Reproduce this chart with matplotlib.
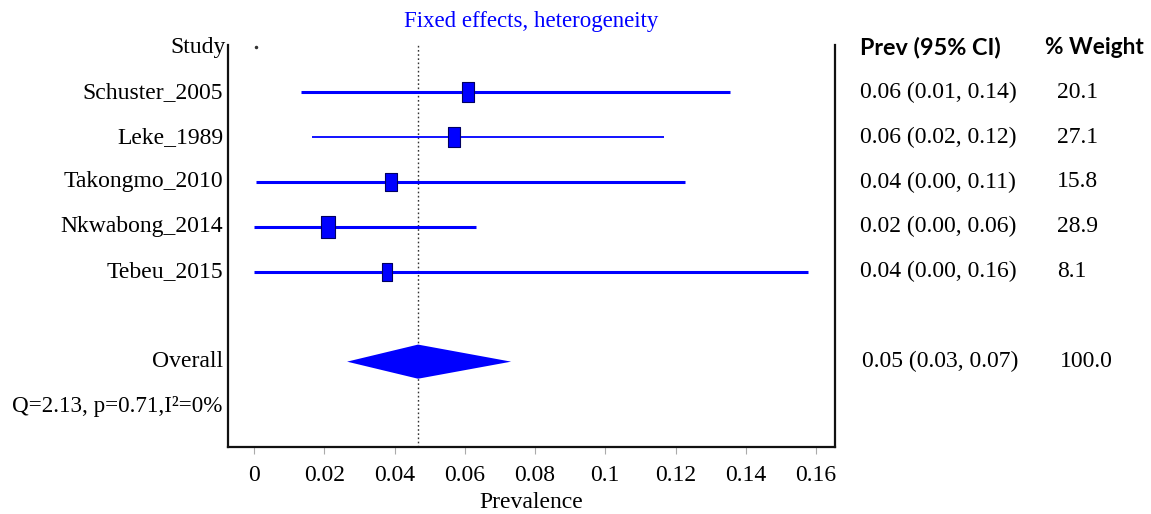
import matplotlib
matplotlib.use("Agg")
import matplotlib.pyplot as plt
from matplotlib.path import Path
from matplotlib.transforms import blended_transform_factory

studies = ["Schuster_2005", "Leke_1989", "Takongmo_2010", "Nkwabong_2014", "Tebeu_2015"]
prev = [0.061, 0.057, 0.039, 0.021, 0.038]
lower = [0.0134, 0.0165, 0.0006, 0.0, 0.0]
upper = [0.1355, 0.1167, 0.1227, 0.0632, 0.1577]
weights = [20.1, 27.1, 15.8, 28.9, 8.1]
ci_text = ["0.06 (0.01, 0.14)", "0.06 (0.02, 0.12)", "0.04 (0.00, 0.11)",
           "0.02 (0.00, 0.06)", "0.04 (0.00, 0.16)"]
weight_text = ["20.1", "27.1", "15.8", "28.9", "8.1"]
overall = 0.0467
overall_lo = 0.0265
overall_hi = 0.0732
overall_ci_text = "0.05 (0.03, 0.07)"
overall_weight_text = "100.0"
het_text = "Q=2.13, p=0.71,I\u00b2=0%"
xticks = [0, 0.02, 0.04, 0.06, 0.08, 0.1, 0.12, 0.14, 0.16]
xticklabels = ["0", "0.02", "0.04", "0.06", "0.08", "0.1", "0.12", "0.14", "0.16"]
line_widths = [2.2, 1.3, 2.2, 2.2, 2.2]

serif = "Liberation Serif"
sans = "Lato"
blue = "#0000FF"
fs = 17

fig = plt.figure(figsize=(11.51, 5.14), dpi=100)
ax = fig.add_axes([228/1151, 1-447/514, (835-228)/1151, (447-45)/514])
ax.set_xlim(-0.0074, 0.1654)
ax.set_ylim(8.9, -0.05)

# reference line
ax.axvline(overall, color="#333333", linestyle=(0, (1.2, 1.8)), linewidth=1.0, zorder=1)

rect = Path([(-0.62, -1), (0.62, -1), (0.62, 1), (-0.62, 1), (-0.62, -1)],
            [Path.MOVETO, Path.LINETO, Path.LINETO, Path.LINETO, Path.CLOSEPOLY])

for i, (p, lo, hi, w, lw) in enumerate(zip(prev, lower, upper, weights, line_widths)):
    y = i + 1
    ax.plot([lo, hi], [y, y], color=blue, linewidth=lw, solid_capstyle="butt", zorder=2)
    ms = 11.5 + 0.13 * w
    ax.plot([p], [y], marker=rect, markersize=ms, markerfacecolor=blue,
            markeredgecolor="#000060", markeredgewidth=0.8, linestyle="none", zorder=3)

# overall diamond
ax.fill([overall_lo, overall, overall_hi, overall], [7, 6.62, 7, 7.38],
        color=blue, linewidth=0, zorder=3)

# tiny dot near the header
ax.plot([0.0005], [0], marker="o", markersize=1.5, color="#333333", zorder=2)

ax.spines["top"].set_visible(False)
for s in ["left", "right", "bottom"]:
    ax.spines[s].set_linewidth(1.6)
    ax.spines[s].set_color("#111111")
ax.set_yticks([])
ax.set_xticks(xticks)
ax.set_xticklabels(xticklabels, fontfamily=serif, fontsize=fs)
ax.tick_params(axis="x", direction="out", length=5, width=0.8, color="#aaaaaa", pad=8)
ax.set_xlabel("Prevalence", fontfamily=serif, fontsize=fs, labelpad=4)

# left labels
ylab = blended_transform_factory(ax.transAxes, ax.transData)
ax.text(-0.003, 0, "Study", transform=ylab, ha="right", va="center",
        fontfamily=serif, fontsize=fs)
for i, name in enumerate(studies):
    ax.text(-0.008, i + 1, name, transform=ylab, ha="right", va="center",
            fontfamily=serif, fontsize=fs)
ax.text(-0.008, 7, "Overall", transform=ylab, ha="right", va="center",
        fontfamily=serif, fontsize=fs)
ax.text(-0.01, 8, het_text, transform=ylab, ha="right", va="center",
        fontfamily=serif, fontsize=16.6)

# right columns
rt = blended_transform_factory(fig.transFigure, ax.transData)
ax.text(860/1151, 0, "Prev (95% CI)", transform=rt, ha="left", va="center",
        fontfamily=sans, fontsize=16.8, fontweight="bold")
ax.text(1045/1151, 0, "% Weight", transform=rt, ha="left", va="center",
        fontfamily=sans, fontsize=16.3, fontweight="bold")
for i, (c, wt) in enumerate(zip(ci_text, weight_text)):
    ax.text(860/1151, i + 1, c, transform=rt, ha="left", va="center",
            fontfamily=serif, fontsize=fs)
    ax.text(1057/1151, i + 1, wt, transform=rt, ha="left", va="center",
            fontfamily=serif, fontsize=fs)
ax.text(862/1151, 7, overall_ci_text, transform=rt, ha="left", va="center",
        fontfamily=serif, fontsize=fs)
ax.text(1060/1151, 7, overall_weight_text, transform=rt, ha="left", va="center",
        fontfamily=serif, fontsize=fs)

fig.text(531/1151, 1-22/514, "Fixed effects, heterogeneity", ha="center", va="center",
         fontfamily=serif, fontsize=16.5, color=blue)

fig.savefig("out.png", dpi=100)
